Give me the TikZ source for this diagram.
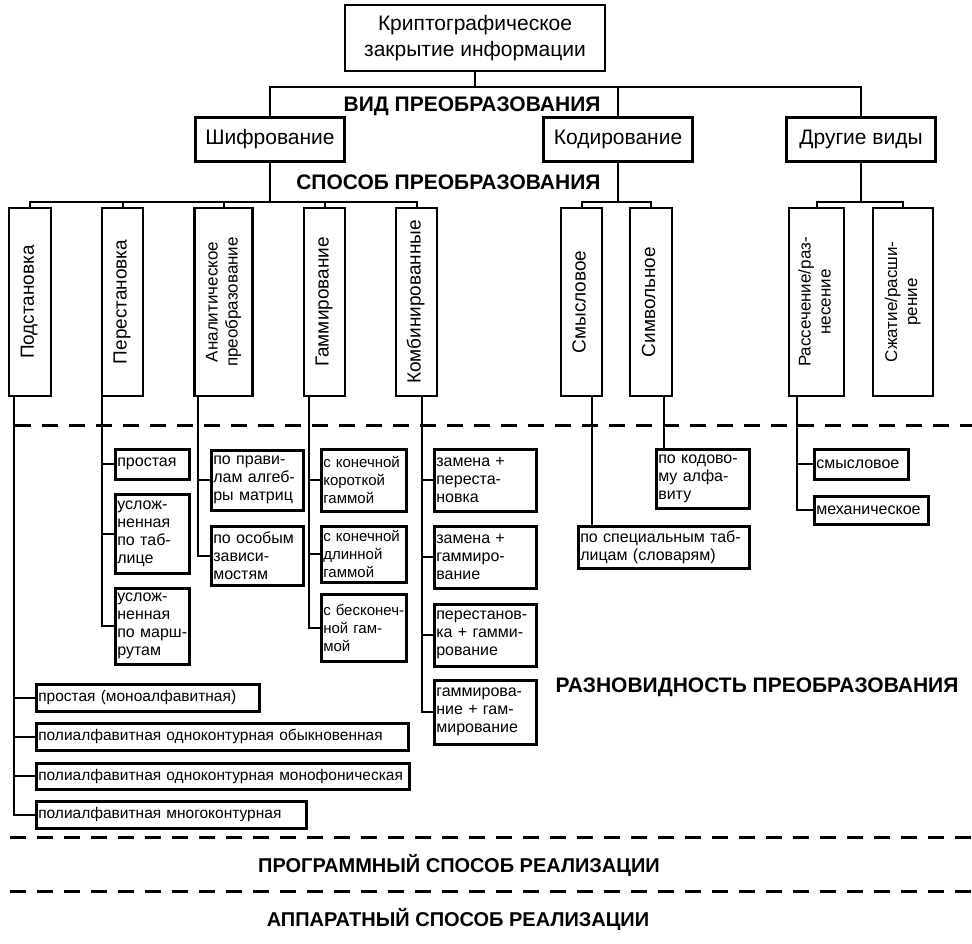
\documentclass[tikz,border=0pt]{standalone}
\usepackage{fontspec}
\setmainfont{Liberation Sans}
\usepackage{tikz}
\usetikzlibrary{positioning,calc}

\newcommand{\vtxt}[1]{\rotatebox{90}{\begin{tabular}{@{}c@{}}#1\end{tabular}}}

\begin{document}
\begin{tikzpicture}[x=1pt, y=-1pt,
    every node/.style={font=\fontsize{16}{18}\selectfont},
    box/.style={draw, line width=2.8pt, inner sep=0pt, align=center},
    vbox/.style={box, minimum height=188pt, font=\fontsize{19}{20}\selectfont},
    sbox/.style={draw, line width=2.6pt, anchor=north west, align=left, inner xsep=2pt, inner ysep=1pt},
    gbox/.style={sbox, text width=81pt, font=\fontsize{15}{18}\selectfont},
    head/.style={font=\bfseries\fontsize{21}{24}\selectfont},
    conn/.style={line width=2pt},
    sep/.style={line width=3pt, dash pattern=on 16pt off 11pt}]
    \useasboundingbox (0,0) rectangle (972,944);

    \node[box, minimum width=260pt, minimum height=66pt, font=\fontsize{21}{26}\selectfont] (crypt) at (475,38) {Криптографическое\\закрытие информации};
    \node[box, minimum width=149pt, minimum height=44pt, font=\fontsize{21}{24}\selectfont] (shifr) at (270,139.5) {Шифрование};
    \node[box, minimum width=149pt, minimum height=44pt, font=\fontsize{21}{24}\selectfont] (kodir) at (618,139.5) {Кодирование};
    \node[box, minimum width=149pt, minimum height=44pt, font=\fontsize{21}{24}\selectfont] (drug) at (861,139.5) {Другие виды};

    \node[head, anchor=east] (vid) at (604,106) {ВИД ПРЕОБРАЗОВАНИЯ};
    \node[head, anchor=east] (sposob) at (604,182) {СПОСОБ ПРЕОБРАЗОВАНИЯ};

    \coordinate (vidbus) at (0,87);
    \coordinate (spbus) at (0,202);
    \draw[conn] (crypt.south) -- (crypt.south |- vidbus);
    \draw[conn] (shifr.north) -- (shifr.north |- vidbus) -- (drug.north |- vidbus) -- (drug.north);
    \draw[conn] (kodir.north) -- (kodir.north |- vidbus);

    \node[vbox, minimum width=42pt] (podst) at (30,302) {\vtxt{Подстановка}};
    \node[vbox, minimum width=41pt] (perest) at (122.5,302) {\vtxt{Перестановка}};
    \node[vbox, minimum width=58pt, font=\fontsize{17}{20}\selectfont] (analit) at (223.5,302) {\vtxt{Аналитическое\\преобразование}};
    \node[vbox, minimum width=41pt] (gamm) at (324.5,302) {\vtxt{Гаммирование}};
    \node[vbox, minimum width=41pt] (komb) at (416.5,302) {\vtxt{Комбинированные}};
    \node[vbox, minimum width=41pt] (smysl) at (581.5,302) {\vtxt{Смысловое}};
    \node[vbox, minimum width=42pt] (simv) at (651,302) {\vtxt{Символьное}};
    \node[vbox, minimum width=55pt, font=\fontsize{17}{20}\selectfont] (rass) at (816.5,302) {\vtxt{Рассечение/раз-\\несение}};
    \node[vbox, minimum width=60pt, font=\fontsize{17}{20}\selectfont] (szh) at (903,302) {\vtxt{Сжатие/расши-\\рение}};

    \draw[conn] (shifr.south) -- (shifr.south |- spbus);
    \draw[conn] (podst.north) -- (podst.north |- spbus) -- (komb.north |- spbus) -- (komb.north);
    \foreach \n in {perest,analit,gamm}
      \draw[conn] (\n.north) -- (\n.north |- spbus);
    \draw[conn] (kodir.south) -- (kodir.south |- spbus);
    \draw[conn] (smysl.north) -- (smysl.north |- spbus) -- (simv.north |- spbus) -- (simv.north);
    \draw[conn] (drug.south) -- (drug.south |- spbus);
    \draw[conn] (rass.north) -- (rass.north |- spbus) -- (szh.north |- spbus) -- (szh.north);

    \draw[sep] (15,425) -- (972,425);

    \node[sbox, text width=70pt, minimum height=30pt] (pr1) at (114,448) {простая};
    \node[sbox, text width=70pt, minimum height=79pt] (pr2) at (114,493) {услож-\\ненная\\по~таб-\\лице};
    \node[sbox, text width=70pt, minimum height=76pt] (pr3) at (114,587) {услож-\\ненная\\по~марш-\\рутам};
    \node[sbox, text width=88pt, minimum height=60pt] (an1) at (210,449) {по~прави-\\лам~алгеб-\\ры~матриц};
    \node[sbox, text width=88pt, minimum height=59pt] (an2) at (210,525) {по~особым\\зависи-\\мостям};
    \node[gbox, minimum height=62pt] (ga1) at (320,448) {с~конечной\\короткой\\гаммой};
    \node[gbox, minimum height=56pt] (ga2) at (320,525) {с~конечной\\длинной\\гаммой};
    \node[gbox, minimum height=67pt] (ga3) at (320,593) {с~бесконеч-\\ной~гам-\\мой};
    \node[sbox, text width=98pt, minimum height=62pt] (ko1) at (433,448) {замена~+\\переста-\\новка};
    \node[sbox, text width=98pt, minimum height=62pt] (ko2) at (433,525) {замена~+\\гаммиро-\\вание};
    \node[sbox, text width=98pt, minimum height=62pt] (ko3) at (433,603) {перестанов-\\ка~+~гамми-\\рование};
    \node[sbox, text width=98pt, minimum height=64pt] (ko4) at (433,679) {гаммирова-\\ние~+~гам-\\мирование};
    \node[sbox, text width=89pt, minimum height=59pt] (kd1) at (655,448) {по~кодово-\\му~алфа-\\виту};
    \node[sbox, text width=167pt, minimum height=42pt] (kd2) at (577,525) {по~специальным~таб-\\лицам~(словарям)};
    \node[sbox, text width=90pt, minimum height=30pt] (dr1) at (813,448) {смысловое};
    \node[sbox, text width=110pt, minimum height=28pt] (dr2) at (813,495) {механическое};
    \node[sbox, text width=219pt, minimum height=27pt, font=\fontsize{15.5}{18}\selectfont] (b1) at (35,683) {простая (моноалфавитная)};
    \node[sbox, text width=368pt, minimum height=27pt, font=\fontsize{15.5}{18}\selectfont] (b2) at (35,722) {полиалфавитная одноконтурная обыкновенная};
    \node[sbox, text width=369pt, minimum height=26pt, font=\fontsize{15.5}{18}\selectfont] (b3) at (35,762) {полиалфавитная одноконтурная монофоническая};
    \node[sbox, text width=266pt, minimum height=27pt, font=\fontsize{15.5}{18}\selectfont] (b4) at (35,800) {полиалфавитная многоконтурная};

    \coordinate (dpodst) at ([xshift=6pt]podst.south west);
    \coordinate (dperest) at ([xshift=1pt]perest.south west);
    \coordinate (danalit) at ([xshift=5pt]analit.south west);
    \coordinate (dgamm) at ([xshift=6pt]gamm.south west);
    \coordinate (dkomb) at ([xshift=27pt]komb.south west);
    \coordinate (dsmysl) at ([xshift=32pt]smysl.south west);
    \coordinate (dsimv) at ([xshift=35pt]simv.south west);
    \coordinate (drass) at ([xshift=9pt]rass.south west);

    \foreach \n in {b1,b2,b3,b4}
      \draw[conn] (dpodst) |- (\n.west);
    \foreach \n in {pr1,pr2,pr3}
      \draw[conn] (dperest) |- (\n.west);
    \foreach \n in {an1,an2}
      \draw[conn] (danalit) |- (\n.west);
    \foreach \n in {ga1,ga2,ga3}
      \draw[conn] (dgamm) |- (\n.west);
    \foreach \n in {ko1,ko2,ko3,ko4}
      \draw[conn] (dkomb) |- (\n.west);
    \draw[conn] (dsmysl) -- (dsmysl |- kd2.north);
    \draw[conn] (dsimv) -- (dsimv |- kd1.north);
    \foreach \n in {dr1,dr2}
      \draw[conn] (drass) |- (\n.west);

    \node[head] (raznov) at (757,687) {РАЗНОВИДНОСТЬ ПРЕОБРАЗОВАНИЯ};

    \draw[sep] (10,837) -- (972,837);
    \node[head, font=\bfseries\fontsize{20}{24}\selectfont] (progr) at (459,865) {ПРОГРАММНЫЙ СПОСОБ РЕАЛИЗАЦИИ};
    \draw[sep] (10,891) -- (972,891);
    \node[head, font=\bfseries\fontsize{20}{24}\selectfont] (appar) at (458,919) {АППАРАТНЫЙ СПОСОБ РЕАЛИЗАЦИИ};
  \end{tikzpicture}
\end{document}
